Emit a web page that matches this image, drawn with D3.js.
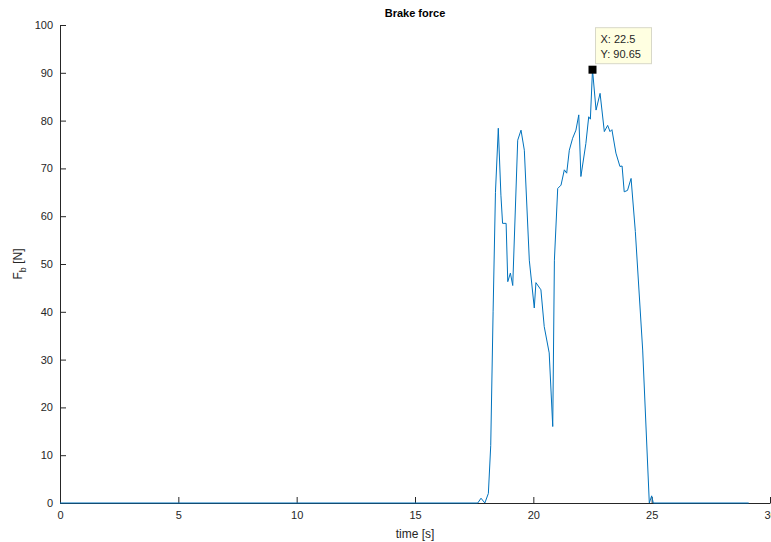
<!DOCTYPE html>
<html>
<head>
<meta charset="utf-8">
<script src="https://cdn.jsdelivr.net/npm/d3@7"></script>
<style>
  body { margin: 0; background: #fff; }
  svg { display: block; font-family: "Liberation Sans", Arial, Helvetica, sans-serif; }
  .tick text { fill: #262626; font-size: 11px; }
  .domain, .tick line { stroke: #262626; }
</style>
</head>
<body>
<svg id="chart" width="771" height="542"></svg>
<script>
// Brake force trace (time in s, force in N)
const time = [0, 17.65, 17.79, 17.95, 18.1, 18.2, 18.3, 18.4, 18.52, 18.63, 18.7, 18.85, 18.92,
  19.03, 19.13, 19.34, 19.48, 19.62, 19.83, 20.04, 20.11, 20.32, 20.46, 20.67, 20.82, 20.89,
  21.03, 21.17, 21.31, 21.41, 21.52, 21.66, 21.8, 21.92, 22.01, 22.22, 22.34, 22.41, 22.5,
  22.65, 22.82, 23.0, 23.14, 23.24, 23.32, 23.49, 23.66, 23.75, 23.84, 23.98, 24.13, 24.31,
  24.62, 24.9, 25.0, 25.07, 29.1];
const force = [0, 0, 1, 0, 2, 12, 40, 65, 78.4, 64.4, 58.5, 58.5, 46.3,
  48.1, 45.5, 75.9, 78, 73.8, 50.8, 40.8, 46.1, 44.6, 36.9, 31.4, 16, 50.8,
  65.8, 66.5, 69.7, 69, 73.8, 76.3, 78, 81.2, 68.3, 75.2, 80.8, 80.3, 90.65,
  82.2, 85.7, 77.7, 79, 77.7, 78.1, 73.2, 70.4, 70.5, 65.1, 65.4, 67.9, 56.8,
  32, 0, 1.5, 0, 0];
const xTicks = [0, 5, 10, 15, 20, 25, 30];
const yTicks = [0, 10, 20, 30, 40, 50, 60, 70, 80, 90, 100];
const tip = { x: 22.5, y: 90.65 };

const svg = d3.select("#chart");
const margin = { left: 60, right: 770, top: 25, bottom: 503 };

const x = d3.scaleLinear().domain([0, 30]).range([margin.left, margin.right]);
const y = d3.scaleLinear().domain([0, 100]).range([margin.bottom, margin.top]);

// Axes (MATLAB style: ticks point inward, no box)
svg.append("g")
    .attr("transform", `translate(0,${margin.bottom})`)
    .call(d3.axisBottom(x).tickValues(xTicks).tickSizeInner(-6).tickSizeOuter(0).tickPadding(8))
    .call(g => g.selectAll(".tick text").attr("dy", "0.71em"));

svg.append("g")
    .attr("transform", `translate(${margin.left},0)`)
    .call(d3.axisLeft(y).tickValues(yTicks).tickSizeInner(-6).tickSizeOuter(0).tickPadding(7));

// Data line
const pts = time.map((t, i) => [t, force[i]]);
svg.append("path")
    .datum(pts)
    .attr("fill", "none")
    .attr("stroke", "#0072BD")
    .attr("stroke-width", 1)
    .attr("stroke-linejoin", "round")
    .attr("d", d3.line().x(d => x(d[0])).y(d => y(d[1])));

// Title and labels
svg.append("text")
    .attr("x", (margin.left + margin.right) / 2)
    .attr("y", 17)
    .attr("text-anchor", "middle")
    .attr("font-size", 11)
    .attr("font-weight", "bold")
    .attr("fill", "#000")
    .text("Brake force");

svg.append("text")
    .attr("x", (margin.left + margin.right) / 2)
    .attr("y", 538)
    .attr("text-anchor", "middle")
    .attr("font-size", 12)
    .attr("fill", "#262626")
    .text("time [s]");

const yl = svg.append("text")
    .attr("transform", `translate(22,${(margin.top + margin.bottom) / 2}) rotate(-90)`)
    .attr("text-anchor", "middle")
    .attr("font-size", 12)
    .attr("fill", "#262626");
yl.append("tspan").text("F");
yl.append("tspan").attr("font-size", 9).attr("dy", 4).text("b");
yl.append("tspan").attr("dy", -4).text(" [N]");

// Data tip
svg.append("rect")
    .attr("x", x(tip.x) - 4).attr("y", y(tip.y) - 4)
    .attr("width", 8).attr("height", 8)
    .attr("fill", "#000");

const box = svg.append("g").attr("transform", `translate(${x(tip.x) + 3},${y(tip.y) - 42})`);
box.append("rect")
    .attr("width", 56).attr("height", 36)
    .attr("fill", "#ffffe1")
    .attr("stroke", "#d8d8c8");
box.append("text").attr("x", 5).attr("y", 15).attr("font-size", 11).attr("fill", "#262626")
    .text(`X: ${tip.x}`);
box.append("text").attr("x", 5).attr("y", 30).attr("font-size", 11).attr("fill", "#262626")
    .text(`Y: ${tip.y}`);
</script>
</body>
</html>
